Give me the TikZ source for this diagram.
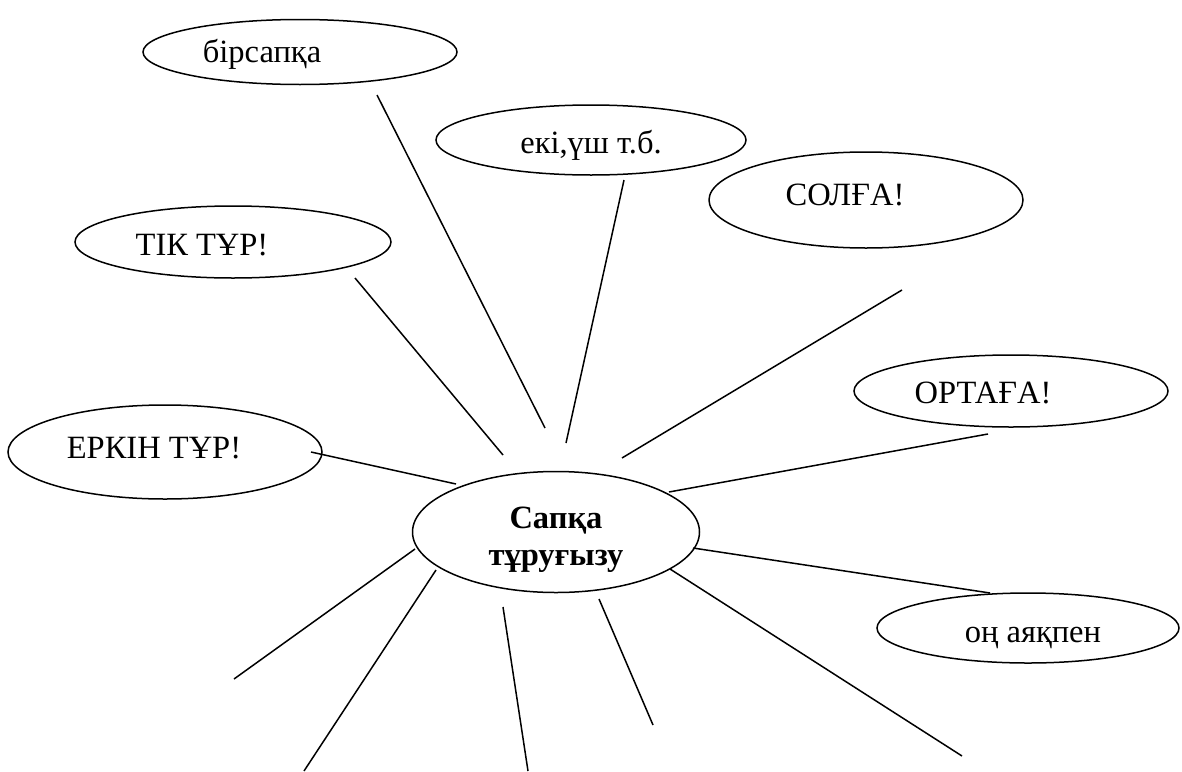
\documentclass[tikz,border=0pt]{standalone}
\usepackage{fontspec}
\setmainfont{Liberation Serif}
\usetikzlibrary{shapes.geometric}
% text placed off centre inside a bubble: x shift, raise, text
\newcommand{\bubbletext}[3]{\makebox[0pt]{\hspace*{#1pt}\hspace*{#1pt}\raisebox{#2pt}[0pt][0pt]{#3}}}
\tikzset{
    bubble/.style={
           ellipse,
           draw=black, line width=1.5pt,
           inner sep=0pt,
           font=\fontsize{32.5}{37}\selectfont,
           },
    hub/.style={
           bubble,
           font=\fontsize{32.5}{37}\selectfont\bfseries,
           },
    ray/.style={line width=1.5pt},
}
\begin{document}
\begin{tikzpicture}[x=1pt,y=-1pt]
  \useasboundingbox (0,0) rectangle (1182,771);
  \node[bubble, minimum width=314pt, minimum height=65pt] (bir)
    at (300,52) {\bubbletext{-38}{-10}{бірсапқа}};
  \node[bubble, minimum width=310pt, minimum height=70pt] (eki)
    at (591,140) {\bubbletext{0}{-13}{екі,үш т.б.}};
  \node[bubble, minimum width=314pt, minimum height=96pt] (solga)
    at (866,200) {\bubbletext{-21}{-5}{СОЛҒА!}};
  \node[bubble, minimum width=316pt, minimum height=72pt] (tik)
    at (233,242) {\bubbletext{-31}{-13}{ТІК ТҰР!}};
  \node[bubble, minimum width=314pt, minimum height=72pt] (ortaga)
    at (1011,391) {\bubbletext{-28}{-12}{ОРТАҒА!}};
  \node[bubble, minimum width=314pt, minimum height=94pt] (erkin)
    at (165,452) {\bubbletext{-11}{-6}{ЕРКІН ТҰР!}};
  \node[hub, minimum width=287pt, minimum height=121pt] (sapka)
    at (556,532) {\bubbletext{0}{4}{\begin{tabular}[t]{@{}c@{}}Сапқа\\тұруғызу\end{tabular}}};
  \node[bubble, minimum width=302pt, minimum height=70pt] (ong)
    at (1028,628) {\bubbletext{5}{-14}{оң аяқпен}};
  % end points of the rays
  \coordinate (r1a) at (377,95);   \coordinate (r1b) at (545,428);
  \coordinate (r2a) at (624,180);  \coordinate (r2b) at (566,443);
  \coordinate (r3a) at (902,290);  \coordinate (r3b) at (622,458);
  \coordinate (r4a) at (355,278);  \coordinate (r4b) at (503,455);
  \coordinate (r5a) at (988,434);  \coordinate (r5b) at (669,492);
  \coordinate (r6a) at (311,452);  \coordinate (r6b) at (456,484);
  \coordinate (r7a) at (693,548);  \coordinate (r7b) at (990,593);
  \coordinate (r8a) at (415,549);  \coordinate (r8b) at (234,679);
  \coordinate (r9a) at (436,570);  \coordinate (r9b) at (304,771);
  \coordinate (r10a) at (503,607); \coordinate (r10b) at (528,771);
  \coordinate (r11a) at (599,599); \coordinate (r11b) at (653,725);
  \coordinate (r12a) at (670,569); \coordinate (r12b) at (962,756);
  % draw the rays
  \path[ray]
    (r1a) edge (r1b)
    (r2a) edge (r2b)
    (r3a) edge (r3b)
    (r4a) edge (r4b)
    (r5a) edge (r5b)
    (r6a) edge (r6b)
    (r7a) edge (r7b)
    (r8a) edge (r8b)
    (r9a) edge (r9b)
    (r10a) edge (r10b)
    (r11a) edge (r11b)
    (r12a) edge (r12b)
  ;
\end{tikzpicture}
\end{document}
